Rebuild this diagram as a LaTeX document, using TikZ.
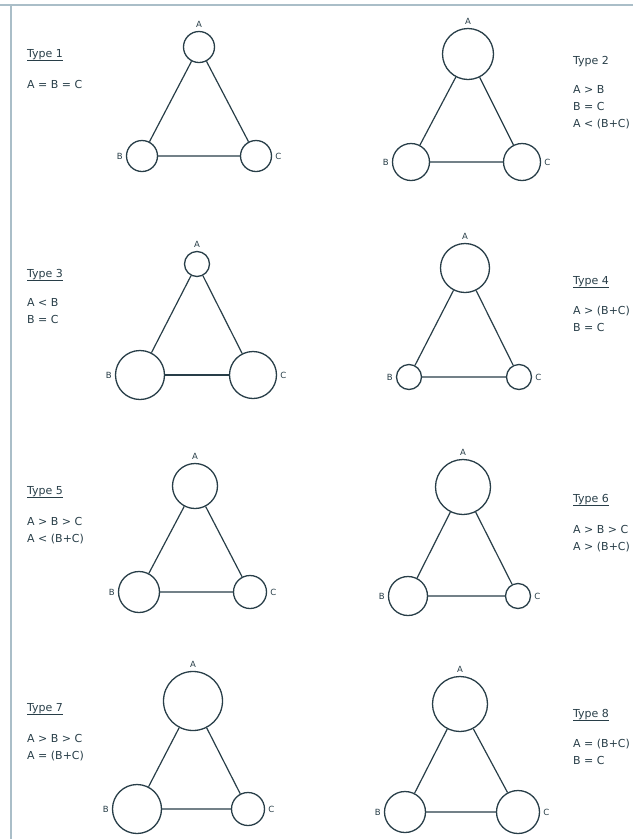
\documentclass[tikz,border=0pt]{standalone}
\usepackage{fontspec}
\setsansfont{DejaVu Sans}
\usetikzlibrary{positioning}

\definecolor{ink}{RGB}{40, 62, 72}     % scan ink
\definecolor{edgeln}{RGB}{170, 190, 200} % page edge

\tikzset{
  ring/.style={circle, draw=ink, line width=1.3pt, inner sep=0pt},
  link/.style={draw=ink, line width=1.2pt},
  lbl/.style={font=\sffamily\fontsize{8.5}{9}\selectfont, text=ink, inner sep=1pt, label distance=2pt},
  typehead/.style={anchor=base west, inner sep=0pt, font=\sffamily\fontsize{11}{13}\selectfont, text=ink},
  relation/.style={inner sep=0pt, align=left, font=\sffamily\fontsize{11}{17}\selectfont, text=ink},
  pageedge/.style={draw=edgeln, line width=1.1pt}
}

\begin{document}
\begin{tikzpicture}[x=1pt, y=-1pt]
\useasboundingbox (0,0) rectangle (633,839);

% Page edges
\draw[pageedge] (0,5) -- (633,5);
\draw[pageedge] (11,5) -- (11,839);

% Type 1
\node[ring, minimum size=31pt, label={[lbl]above:A}] (a1) at (199,47) {};
\node[ring, minimum size=31pt, label={[lbl]left:B}] (b1) at (142,156) {};
\node[ring, minimum size=31pt, label={[lbl]right:C}] (c1) at (256,156) {};
\draw[link] (a1) -- (b1) -- (c1) -- (a1);
\node[typehead] (ty1) at (27,57) {\underline{Type 1}};
\node[relation, below right=19pt and 0pt of ty1.south west] (rel1) {A = B = C};

% Type 2
\node[ring, minimum size=51pt, label={[lbl]above:A}] (a2) at (468,54) {};
\node[ring, minimum size=37pt, label={[lbl]left:B}] (b2) at (411,162) {};
\node[ring, minimum size=37pt, label={[lbl]right:C}] (c2) at (522,162) {};
\draw[link] (a2) -- (b2) -- (c2) -- (a2);
\node[typehead] (ty2) at (573,64) {Type 2};
\node[relation, below right=19pt and 0pt of ty2.south west] (rel2) {A > B\\B = C\\A < (B+C)};

% Type 3
\node[ring, minimum size=25pt, label={[lbl]above:A}] (a3) at (197,264) {};
\node[ring, minimum size=49pt, label={[lbl]left:B}] (b3) at (140,375) {};
\node[ring, minimum size=47pt, label={[lbl]right:C}] (c3) at (253,375) {};
\draw[link] (a3) -- (b3);
\draw[link, line width=1.8pt] (b3) -- (c3);
\draw[link] (c3) -- (a3);
\node[typehead] (ty3) at (27,277) {\underline{Type 3}};
\node[relation, below right=17pt and 0pt of ty3.south west] (rel3) {A < B\\B = C};

% Type 4
\node[ring, minimum size=49pt, label={[lbl]above:A}] (a4) at (465,268) {};
\node[ring, minimum size=25pt, label={[lbl]left:B}] (b4) at (409,377) {};
\node[ring, minimum size=25pt, label={[lbl]right:C}] (c4) at (519,377) {};
\draw[link] (a4) -- (b4) -- (c4) -- (a4);
\node[typehead] (ty4) at (573,284) {\underline{Type 4}};
\node[relation, below right=17pt and 0pt of ty4.south west] (rel4) {A > (B+C)\\B = C};

% Type 5
\node[ring, minimum size=45pt, label={[lbl]above:A}] (a5) at (195,486) {};
\node[ring, minimum size=41pt, label={[lbl]left:B}] (b5) at (139,592) {};
\node[ring, minimum size=33pt, label={[lbl]right:C}] (c5) at (250,592) {};
\draw[link] (a5) -- (b5) -- (c5) -- (a5);
\node[typehead] (ty5) at (27,494) {\underline{Type 5}};
\node[relation, below right=19pt and 0pt of ty5.south west] (rel5) {A > B > C\\A < (B+C)};

% Type 6
\node[ring, minimum size=55pt, label={[lbl]above:A}] (a6) at (463,487) {};
\node[ring, minimum size=39pt, label={[lbl]left:B}] (b6) at (408,596) {};
\node[ring, minimum size=25pt, label={[lbl]right:C}] (c6) at (518,596) {};
\draw[link] (a6) -- (b6) -- (c6) -- (a6);
\node[typehead] (ty6) at (573,502) {\underline{Type 6}};
\node[relation, below right=19pt and 0pt of ty6.south west] (rel6) {A > B > C\\A > (B+C)};

% Type 7
\node[ring, minimum size=59pt, label={[lbl]above:A}] (a7) at (193,701) {};
\node[ring, minimum size=49pt, label={[lbl]left:B}] (b7) at (137,809) {};
\node[ring, minimum size=33pt, label={[lbl]right:C}] (c7) at (248,809) {};
\draw[link] (a7) -- (b7) -- (c7) -- (a7);
\node[typehead] (ty7) at (27,711) {\underline{Type 7}};
\node[relation, below right=19pt and 0pt of ty7.south west] (rel7) {A > B > C\\A = (B+C)};

% Type 8
\node[ring, minimum size=55pt, label={[lbl]above:A}] (a8) at (460,704) {};
\node[ring, minimum size=41pt, label={[lbl]left:B}] (b8) at (405,812) {};
\node[ring, minimum size=43pt, label={[lbl]right:C}] (c8) at (518,812) {};
\draw[link] (a8) -- (b8) -- (c8) -- (a8);
\node[typehead] (ty8) at (573,717) {\underline{Type 8}};
\node[relation, below right=17pt and 0pt of ty8.south west] (rel8) {A = (B+C)\\B = C};
\end{tikzpicture}
\end{document}
